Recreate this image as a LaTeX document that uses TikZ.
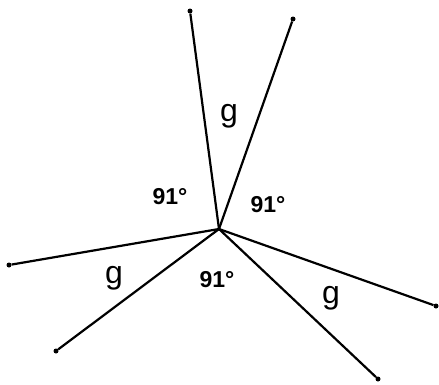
\documentclass[tikz,border=0pt]{standalone}
\usepackage{fontspec}
\setmainfont{Liberation Sans}
\begin{document}
\begin{tikzpicture}[x=1pt, y=-1pt,
    endpt/.style={circle, fill, inner sep=0pt, minimum size=5pt},
    ray/.style={line width=2.2pt},
    angle/.style={font=\fontsize{23}{26}\selectfont\bfseries},
    gap/.style={font=\fontsize{32}{36}\selectfont}]
  \useasboundingbox (0,0) rectangle (439,384);

  % Centre
  \coordinate (c) at (219,229);

  % End points
  \node[endpt] (topl) at (190,11) {};
  \node[endpt] (topr) at (293,19) {};
  \node[endpt] (left) at (9,265) {};
  \node[endpt] (botl) at (56,351) {};
  \node[endpt] (right) at (436,306) {};
  \node[endpt] (botr) at (378,379) {};

  % Rays
  \draw[ray] (c) -- (topl);
  \draw[ray] (c) -- (topr);
  \draw[ray] (c) -- (left);
  \draw[ray] (c) -- (botl);
  \draw[ray] (c) -- (right);
  \draw[ray] (c) -- (botr);

  % Labels
  \node[gap] (gtop) at (229,116) {g};
  \node[gap] (gleft) at (114,278) {g};
  \node[gap] (gright) at (331,298) {g};
  \node[angle] (aleft) at (170,197) {91°};
  \node[angle] (aright) at (268,205) {91°};
  \node[angle] (abot) at (217,280) {91°};
\end{tikzpicture}
\end{document}
